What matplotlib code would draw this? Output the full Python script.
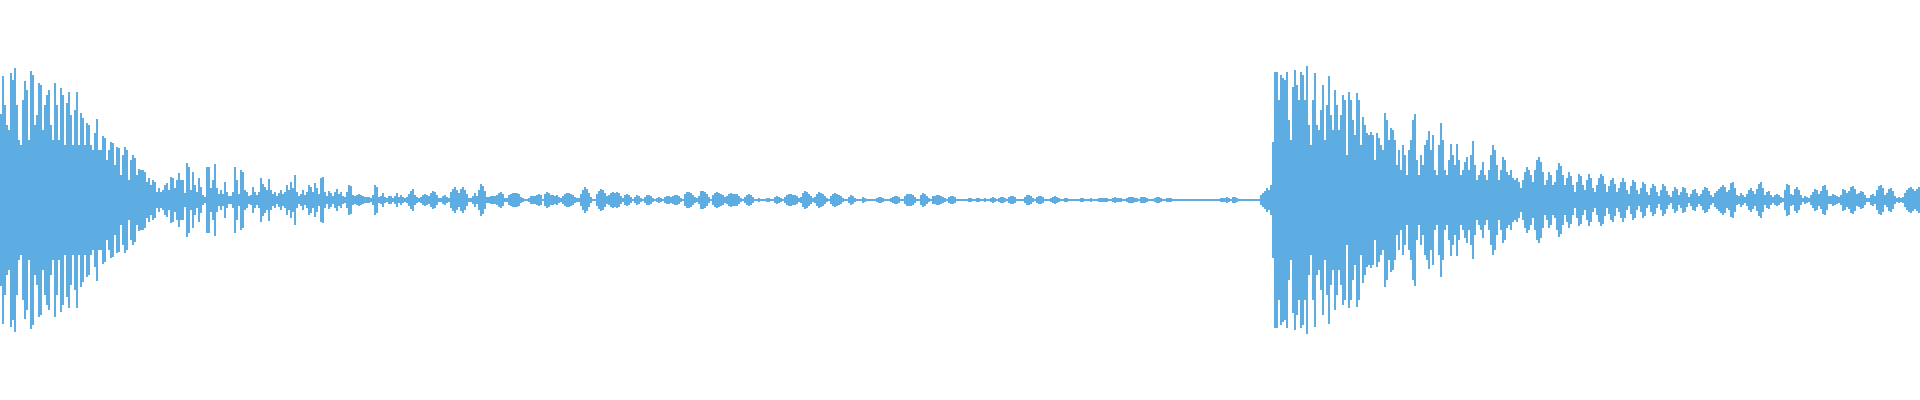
import matplotlib.pyplot as plt
import numpy as np

# half-height of the waveform (peak amplitude) per 2-sample column
# first hit, x 0-179
amp_hit1 = [86, 124, 95, 75, 70, 127, 120, 132, 95, 60,
            55, 100, 119, 110, 60, 129, 125, 75, 85, 117,
            115, 70, 95, 105, 110, 75, 60, 117, 95, 60,
            112, 105, 55, 97, 108, 85, 55, 90, 108, 55,
            87, 82, 55, 77, 75, 55, 50, 67, 81, 50,
            50, 64, 62, 40, 50, 58, 57, 35, 53, 52,
            25, 45, 53, 50, 20, 40, 45, 42, 25, 31,
            30, 30, 28, 18, 22, 15, 20, 18, 8, 12,
            8, 10, 15, 17, 10, 23, 22, 12, 20, 27]

# decay, x 180-349
amp_decay = [20, 20, 7, 37, 33, 10, 28, 15, 8, 22,
             13, 5, 3, 33, 33, 12, 20, 36, 12, 6,
             10, 6, 18, 8, 4, 4, 8, 33, 20, 6,
             30, 28, 10, 8, 4, 5, 13, 8, 5, 8,
             22, 16, 13, 10, 21, 10, 6, 8, 4, 7,
             10, 6, 8, 15, 10, 18, 12, 25, 8, 4,
             6, 10, 5, 8, 15, 13, 8, 17, 12, 6,
             22, 23, 8, 4, 9, 7, 4, 8, 11, 6,
             8, 4, 3, 8, 15]

# quiet part, x 350-699
amp_quiet1 = [14, 5, 4, 5, 6, 5, 4, 3, 3, 3,
              2, 5, 15, 13, 3, 4, 7, 3, 2, 4,
              4, 2, 4, 7, 3, 5, 3, 2, 3, 6,
              9, 11, 5, 3, 2, 3, 5, 6, 5, 4,
              7, 9, 8, 5, 2, 2, 4, 5, 3, 2,
              8, 11, 13, 10, 7, 11, 13, 10, 6, 2,
              2, 4, 7, 4, 10, 16, 14, 9, 3, 3,
              4, 4, 4, 5, 7, 8, 6, 2, 2, 5,
              6, 7, 7, 7, 6, 3, 2, 1, 1, 2,
              4, 4, 4, 5, 6, 5, 1, 6, 8, 7,
              5, 5, 4, 5, 3, 2, 4, 6, 7, 7,
              6, 5, 3, 2, 2, 6, 10, 13, 11, 7,
              3, 1, 1, 6, 9, 11, 10, 7, 4, 5,
              7, 8, 7, 8, 7, 4, 2, 5, 6, 5,
              3, 1, 3, 5, 4, 2, 1, 3, 5, 5,
              4, 2, 1, 2, 3, 2, 1, 3, 4, 4,
              3, 4, 5, 5, 4, 2, 1, 6, 8, 8,
              7, 5, 3, 2, 4]

# quiet part, x 700-1049
amp_quiet2 = [9, 9, 8, 6, 3, 1, 5, 7, 8, 7,
              6, 5, 3, 4, 6, 7, 6, 6, 6, 4,
              2, 1, 3, 5, 6, 5, 3, 1, 1, 2,
              1, 1, 1, 2, 2, 1, 1, 3, 4, 3,
              2, 1, 3, 5, 6, 6, 5, 5, 4, 2,
              3, 7, 9, 8, 6, 4, 2, 3, 6, 8,
              7, 6, 4, 2, 1, 4, 6, 7, 6, 5,
              4, 2, 1, 1, 3, 5, 4, 2, 1, 1,
              1, 3, 2, 1, 1, 1, 1, 1, 2, 3,
              3, 2, 1, 1, 1, 2, 3, 4, 4, 3,
              1, 1, 4, 6, 6, 6, 5, 3, 1, 1,
              5, 7, 6, 4, 2, 1, 4, 4, 5, 5,
              4, 3, 2, 1, 3, 4, 4, 3, 1, 1,
              1, 1, 1, 1, 2, 2, 1, 1, 2, 2,
              1, 1, 2, 1, 1, 2, 3, 2, 1, 2,
              3, 3, 2, 1, 3, 4, 4, 3, 1, 1,
              1, 1, 3, 5, 5, 4, 2, 1, 3, 4,
              4, 3, 1, 1, 1]

# near silence and onset, x 1050-1269
amp_quiet3 = [2, 3, 4, 3, 2, 1, 1, 2, 2, 1,
              1, 1, 1, 1, 1, 2, 2, 1, 1, 1,
              2, 1, 1, 1, 2, 2, 2, 2, 2, 1,
              1, 2, 3, 2, 2, 2, 1, 1, 2, 3,
              3, 3, 2, 2, 1, 3, 3, 3, 2, 1,
              1, 1, 2, 3, 3, 2, 1, 1, 2, 2,
              2, 1, 1, 1, 1, 1, 1, 1, 1, 1,
              1, 1, 1, 1, 1, 1, 1, 1, 1, 1,
              1, 1, 1, 1, 1, 2, 2, 2, 3, 2,
              1, 3, 3, 2, 1, 1, 1, 1, 1, 1,
              1, 1, 1, 1, 1, 5, 7, 9, 12, 10]

# second hit, x 1270-1399
amp_hit2 = [15, 58, 128, 128, 100, 125, 122, 120, 128, 80,
            60, 113, 130, 115, 100, 128, 125, 100, 134, 75,
            55, 100, 127, 75, 70, 90, 115, 60, 95, 124,
            85, 70, 110, 95, 70, 85, 105, 100, 45, 108,
            100, 80, 65, 107, 100, 55, 83, 75, 67, 65,
            68, 65, 40, 67, 62, 55, 50, 87, 80, 60,
            72, 70, 60, 35, 50]

# second decay, x 1400-1699
amp_decay2 = [30, 55, 45, 25, 50, 60, 80, 86, 40, 25,
              45, 35, 55, 60, 69, 50, 65, 30, 25, 55,
              77, 60, 30, 25, 40, 56, 45, 35, 56, 40,
              25, 30, 38, 43, 30, 45, 59, 35, 20, 25,
              30, 38, 25, 20, 30, 45, 55, 50, 35, 20,
              30, 43, 40, 28, 25, 30, 22, 20, 22, 18,
              12, 20, 28, 33, 30, 25, 18, 30, 40, 43,
              38, 28, 15, 20, 28, 25, 15, 18, 30, 37,
              34, 25, 15, 22, 28, 24, 15, 8, 18, 26,
              24, 15, 10, 20, 26, 22, 12, 8, 15, 22,
              26, 24, 16, 8, 14, 20, 22, 16, 8, 12,
              18, 22, 18, 10, 6, 14, 20, 18, 10, 6,
              12, 18, 16, 8, 5, 12, 16, 14, 8, 4,
              10, 16, 14, 9, 5, 3, 9, 13, 11, 5,
              8, 13, 12, 7, 3, 6, 10, 11, 7, 4]

# tail, x 1700-1919
amp_tail = [6, 10, 13, 12, 9, 5, 3, 7, 9, 11,
            13, 15, 13, 8, 10, 17, 18, 12, 5, 4,
            7, 5, 3, 6, 10, 12, 9, 6, 11, 16,
            18, 12, 5, 8, 9, 5, 3, 5, 6, 5,
            3, 2, 10, 16, 15, 6, 5, 11, 13, 10,
            5, 2, 4, 3, 2, 5, 8, 11, 10, 6,
            9, 14, 15, 10, 4, 4, 6, 5, 4, 3,
            5, 11, 10, 7, 9, 13, 14, 11, 6, 7,
            9, 8, 5, 2, 2, 5, 6, 4, 10, 14,
            15, 12, 5, 7, 11, 12, 9, 4, 2, 3,
            2, 3, 7, 10, 12, 13, 11, 9, 11, 13]

step = 2

amp = np.array(amp_hit1 + amp_decay + amp_quiet1 + amp_quiet2 +
               amp_quiet3 + amp_hit2 + amp_decay2 + amp_tail, dtype=float)
t = np.arange(len(amp)) * step

plt.ioff()
fig = plt.figure(figsize=(19.2, 4), dpi=100)
ax = fig.add_axes([0, 0, 1, 1])
ax.bar(t, 2 * amp, bottom=-amp, width=step, align='edge',
       color='#5dade2', linewidth=0)
ax.set_xlim(0, 1920)
ax.set_ylim(-200.5, 199.5)
ax.axis('off')

fig.savefig('out.png', dpi=100, facecolor='white')
